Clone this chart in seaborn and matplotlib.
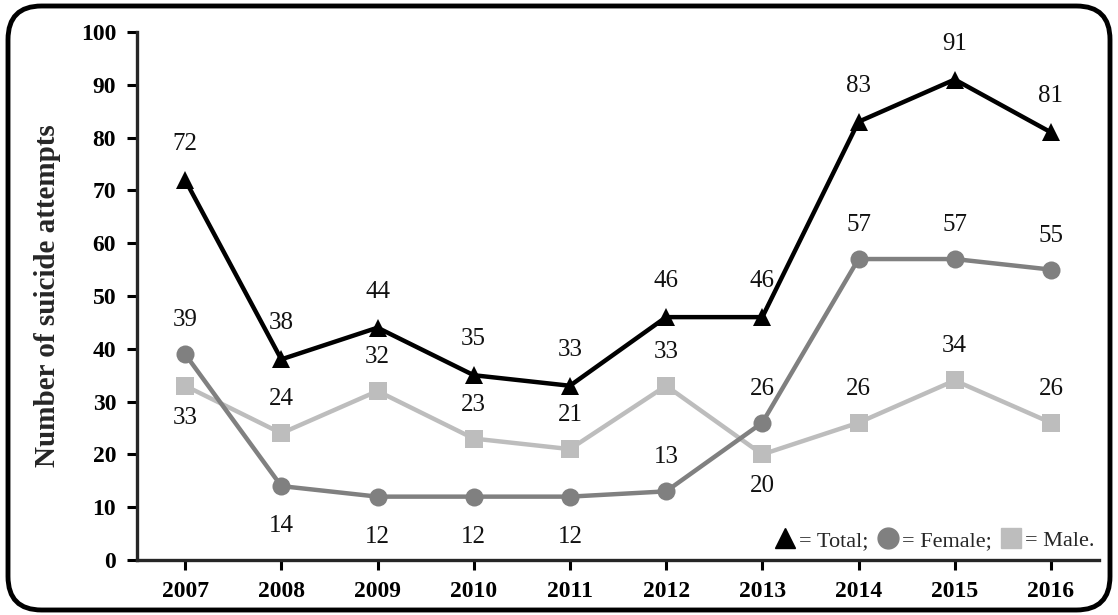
import pandas as pd
import matplotlib.pyplot as plt
import seaborn as sns
from matplotlib.lines import Line2D
from matplotlib.patches import FancyBboxPatch

# -----------------------------
# 1. Data
# -----------------------------
years = ["2007", "2008", "2009", "2010", "2011", "2012", "2013", "2014", "2015", "2016"]
total = [72, 38, 44, 35, 33, 46, 46, 83, 91, 81]
female = [39, 14, 12, 12, 12, 13, 26, 57, 57, 55]
male = [33, 24, 32, 23, 21, 33, 20, 26, 34, 26]

# label above (+1) or below (-1) the point
female_side = [1, -1, -1, -1, -1, 1, 1, 1, 1, 1]
male_side = [-1, 1, 1, 1, 1, 1, -1, 1, 1, 1]

df = pd.DataFrame({
    "pos": list(range(len(years))) * 3,
    "value": total + female + male,
    "series": ["Total"] * 10 + ["Female"] * 10 + ["Male"] * 10,
})

# -----------------------------
# 2. Style
# -----------------------------
sns.set_theme(style="ticks")
plt.rcParams["font.family"] = ["Liberation Serif", "DejaVu Serif"]

colors = {"Total": "#000000", "Female": "#808080", "Male": "#bdbdbd"}
markers = {"Total": "^", "Female": "o", "Male": "s"}

fig = plt.figure(figsize=(11.18, 6.15), dpi=100)
ax = fig.add_axes([137 / 1118, (615 - 560) / 615, (1099 - 137) / 1118, (560 - 32) / 615])

sns.lineplot(data=df, x="pos", y="value", hue="series", style="series",
             palette=colors, markers=markers, dashes=False, linewidth=3.2,
             markersize=13, markeredgewidth=0, legend=False, ax=ax,
             hue_order=["Male", "Female", "Total"])

# -----------------------------
# 3. Value labels
# -----------------------------
def label(vals, sides, up=30, down=36):
    for i, v in enumerate(vals):
        off = up if sides[i] > 0 else -down
        ax.annotate(str(v), (i, v), xytext=(0, off), textcoords="offset pixels",
                    ha="center", va="center", fontsize=18, color="#111111")

label(total, [1] * 10, up=36)
label(female, female_side, up=34, down=40)
label(male, male_side, up=34, down=32)

# -----------------------------
# 4. Axes
# -----------------------------
ax.set_xlim(-0.5, 9.5)
ax.set_ylim(0, 100)
ax.set_xticks(range(len(years)))
ax.set_xticklabels(years, fontsize=17, fontweight="bold")
ax.set_yticks(range(0, 101, 10))
ax.set_yticklabels([str(t) for t in range(0, 101, 10)], fontsize=17, fontweight="bold")
ax.set_xlabel("")
ax.set_ylabel("Number of suicide attempts", fontsize=21, fontweight="bold", labelpad=14)
for side in ["top", "right"]:
    ax.spines[side].set_visible(False)
for side in ["left", "bottom"]:
    ax.spines[side].set_linewidth(2.4)
ax.tick_params(width=2.2, length=7, colors="black", pad=8)

# -----------------------------
# 5. Legend
# -----------------------------
handles = [Line2D([], [], linestyle="none", marker=markers[k], color=colors[k],
                  markersize=15) for k in ["Total", "Female", "Male"]]
ax.legend(handles, ["= Total;", "= Female;", "= Male."], loc="lower right",
          ncol=3, frameon=False, fontsize=16, handlelength=0.8,
          handletextpad=0.25, columnspacing=0.45, borderaxespad=0.0,
          bbox_to_anchor=(1.005, 0.0))

# rounded border round the whole figure
border = FancyBboxPatch((8 / 1118, 5 / 615), 1102 / 1118, 604 / 615,
                        boxstyle="round,pad=0,rounding_size=0.03",
                        transform=fig.transFigure, fill=False,
                        edgecolor="black", linewidth=3.5, mutation_aspect=1118 / 615)
fig.patches.append(border)

fig.savefig("out.png", dpi=100)
